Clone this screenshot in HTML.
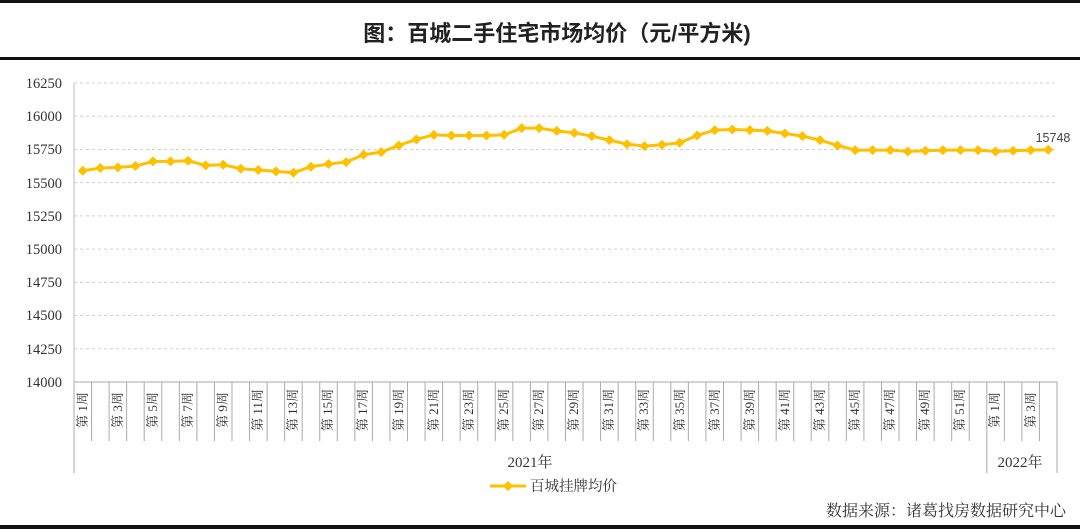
<!DOCTYPE html>
<html><head><meta charset="utf-8"><style>
html,body{margin:0;padding:0;background:#fff;width:1080px;height:530px;overflow:hidden}
svg{display:block}
.s{font-family:"Liberation Serif","Noto Serif CJK SC",serif;fill:#333}
</style></head><body>
<svg id="c" width="1080" height="530" xmlns="http://www.w3.org/2000/svg">
<rect x="0" y="0" width="1080" height="3" fill="#111"/>
<rect x="0" y="57" width="1080" height="3" fill="#111"/>
<rect x="0" y="525" width="1080" height="4" fill="#111"/>
<text x="557" y="41" text-anchor="middle" font-size="22" font-weight="bold" font-family="'Liberation Sans','Noto Sans CJK SC',sans-serif" fill="#222">图：百城二手住宅市场均价（元/平方米)</text>
<g id="grid" stroke="#d0d0d0" stroke-dasharray="3,3" stroke-width="1"></g>
<line x1="74" y1="83" x2="74" y2="382" stroke="#bbb"/>
<g class="s" font-size="14.5" text-anchor="end">
<text x="62" y="88">16250</text><text x="62" y="121">16000</text><text x="62" y="154">15750</text>
<text x="62" y="188">15500</text><text x="62" y="221">15250</text><text x="62" y="254">15000</text>
<text x="62" y="287">14750</text><text x="62" y="320">14500</text><text x="62" y="354">14250</text>
<text x="62" y="387">14000</text></g>
<g id="ticks" stroke="#aaa" stroke-width="1"></g>
<g class="s" font-size="13" text-anchor="middle">
<text transform="translate(87,410) rotate(-90)">第 1周</text>
<text transform="translate(122,410) rotate(-90)">第 3周</text>
<text transform="translate(157,410) rotate(-90)">第 5周</text>
<text transform="translate(192,410) rotate(-90)">第 7周</text>
<text transform="translate(227,410) rotate(-90)">第 9周</text>
<text transform="translate(262,410) rotate(-90)">第 11周</text>
<text transform="translate(297,410) rotate(-90)">第 13周</text>
<text transform="translate(332,410) rotate(-90)">第 15周</text>
<text transform="translate(367,410) rotate(-90)">第 17周</text>
<text transform="translate(403,410) rotate(-90)">第 19周</text>
<text transform="translate(438,410) rotate(-90)">第 21周</text>
<text transform="translate(473,410) rotate(-90)">第 23周</text>
<text transform="translate(508,410) rotate(-90)">第 25周</text>
<text transform="translate(543,410) rotate(-90)">第 27周</text>
<text transform="translate(578,410) rotate(-90)">第 29周</text>
<text transform="translate(613,410) rotate(-90)">第 31周</text>
<text transform="translate(648,410) rotate(-90)">第 33周</text>
<text transform="translate(684,410) rotate(-90)">第 35周</text>
<text transform="translate(719,410) rotate(-90)">第 37周</text>
<text transform="translate(754,410) rotate(-90)">第 39周</text>
<text transform="translate(789,410) rotate(-90)">第 41周</text>
<text transform="translate(824,410) rotate(-90)">第 43周</text>
<text transform="translate(859,410) rotate(-90)">第 45周</text>
<text transform="translate(894,410) rotate(-90)">第 47周</text>
<text transform="translate(929,410) rotate(-90)">第 49周</text>
<text transform="translate(964,410) rotate(-90)">第 51周</text>
<text transform="translate(999,410) rotate(-90)">第 1周</text>
<text transform="translate(1035,410) rotate(-90)">第 3周</text>
</g>
<text class="s" x="530" y="467" font-size="15" text-anchor="middle">2021年</text>
<text class="s" x="1020" y="467" font-size="15" text-anchor="middle">2022年</text>
<g id="series"></g>
<text x="1053" y="142" font-size="12.5" text-anchor="middle" font-family="'Liberation Sans',sans-serif" fill="#444">15748</text>
<line x1="490" y1="486" x2="526" y2="486" stroke="#FFC000" stroke-width="3"/>
<path d="M508 481 L513 486 L508 491 L503 486Z" fill="#FFC000"/>
<text class="s" x="530" y="491" font-size="14.5">百城挂牌均价</text>
<text x="1066" y="516" font-size="16" text-anchor="end" font-family="'Liberation Serif','Noto Serif CJK SC',serif" fill="#333">数据来源：诸葛找房数据研究中心</text>
</svg>
<script>
var ns="http://www.w3.org/2000/svg";
function el(p,t,a){var e=document.createElementNS(ns,t);for(var k in a)e.setAttribute(k,a[k]);p.appendChild(e);return e;}
var g=document.getElementById('grid');
for(var k=0;k<9;k++){var y=83+k*33.22;el(g,'line',{x1:74,x2:1057,y1:y,y2:y});}
var tk=document.getElementById('ticks');
el(tk,'line',{x1:74,x2:1057,y1:382,y2:382});
var w=983/56;
for(var i=0;i<=56;i++){var x=74+w*i;var yb=(i==0||i==52||i==56)?473:441;el(tk,'line',{x1:x,x2:x,y1:382,y2:yb});}
var v=[15590,15610,15615,15625,15660,15660,15665,15630,15635,15605,15595,15585,15575,15620,15640,15655,15710,15730,15780,15825,15860,15855,15855,15855,15860,15910,15910,15890,15875,15850,15820,15790,15775,15785,15800,15855,15895,15900,15895,15890,15870,15850,15820,15780,15745,15745,15745,15735,15740,15745,15745,15745,15735,15740,15745,15748];
var s=document.getElementById('series');var pts=[];
for(var i=0;i<v.length;i++){var x=74+w*(i+0.5);var y=382-(v[i]-14000)*299/2250;pts.push([x,y]);}
el(s,'polyline',{points:pts.map(function(p){return p.join(',')}).join(' '),fill:'none',stroke:'#FFC000','stroke-width':3,'stroke-linejoin':'round'});
pts.forEach(function(p){el(s,'path',{d:'M'+p[0]+' '+(p[1]-5)+' L'+(p[0]+5)+' '+p[1]+' L'+p[0]+' '+(p[1]+5)+' L'+(p[0]-5)+' '+p[1]+'Z',fill:'#FFC000'});});
</script>
</body></html>
